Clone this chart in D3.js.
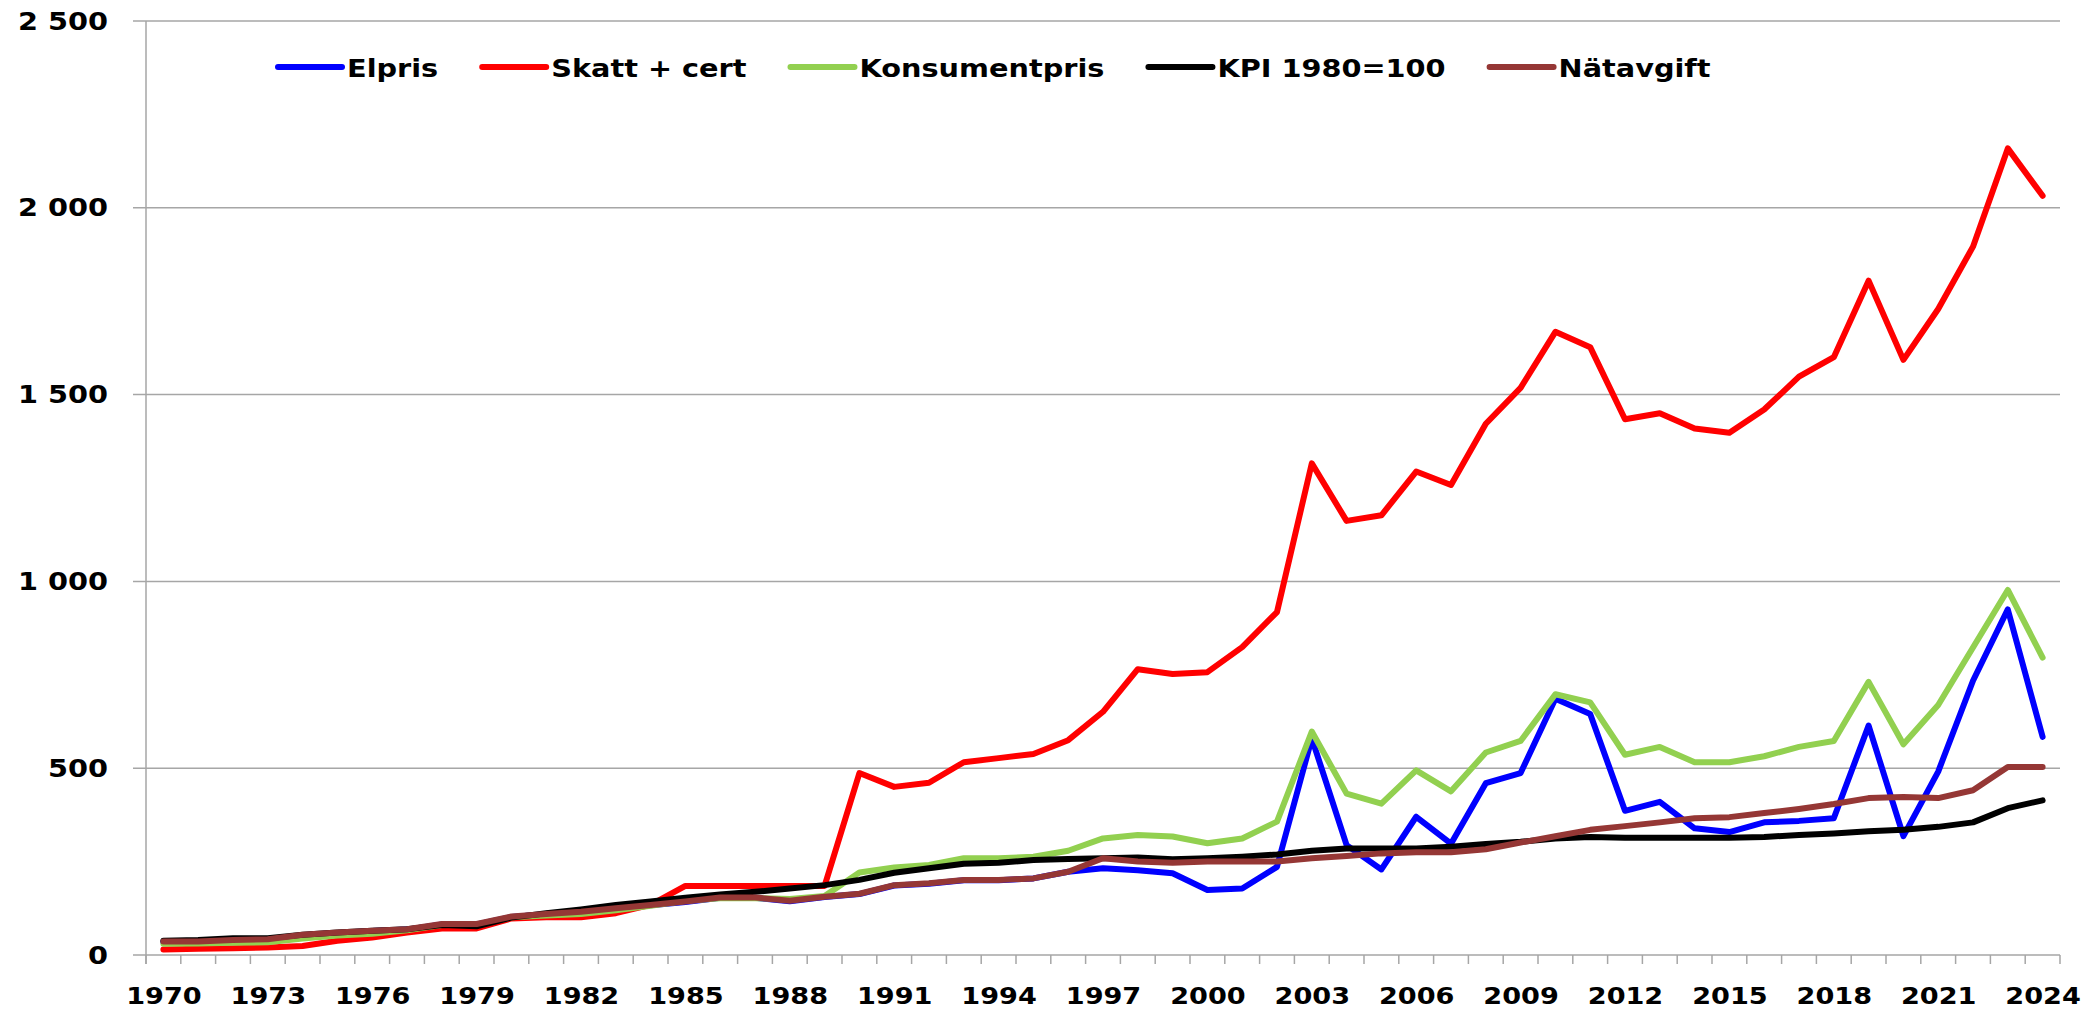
<!DOCTYPE html>
<html>
<head>
<meta charset="utf-8">
<script src="https://cdn.jsdelivr.net/npm/d3@7"></script>
<style>
  html, body { margin: 0; padding: 0; background: #fff; }
  svg { display: block; }
  text { font-family: "DejaVu Sans", sans-serif; font-weight: bold; fill: #000; }
</style>
</head>
<body>
<svg id="chart" width="2098" height="1011"></svg>
<script>
// ---- data -------------------------------------------------------------
const years = d3.range(1970, 2025);
const xTickYears = [1970, 1973, 1976, 1979, 1982, 1985, 1988, 1991, 1994, 1997,
                    2000, 2003, 2006, 2009, 2012, 2015, 2018, 2021, 2024];
const yTicks = [0, 500, 1000, 1500, 2000, 2500];

const seriesNames = ["Elpris", "Skatt + cert", "Konsumentpris", "KPI 1980=100", "Nätavgift"];
const seriesColors = ["#0000ff", "#ff0000", "#92d050", "#000000", "#953735"];

const elpris = [35, 35, 39, 41, 53, 59, 64, 68, 82, 82,
                102, 109, 115, 124, 133, 142, 153, 153, 144, 155,
                163, 186, 191, 200, 200, 205, 223, 232, 227, 219,
                174, 178, 236, 580, 294, 229, 370, 298, 460, 487,
                686, 645, 386, 410, 339, 329, 355, 359, 366, 614,
                318, 491, 734, 925, 584];
const skattCert = [15, 17, 18, 20, 24, 38, 47, 60, 71, 71,
                   98, 101, 101, 112, 134, 185, 185, 185, 185, 185,
                   487, 450, 461, 516, 527, 538, 575, 651, 765, 752,
                   757, 824, 918, 1316, 1162, 1177, 1294, 1258, 1422, 1518,
                   1668, 1627, 1434, 1450, 1409, 1398, 1460, 1548, 1600, 1805,
                   1593, 1729, 1896, 2159, 2032];
const konsumentpris = [30, 31, 33, 34, 44, 52, 57, 66, 80, 80,
                       101, 106, 110, 120, 132, 145, 152, 152, 150, 158,
                       221, 234, 241, 259, 259, 263, 279, 312, 321, 317,
                       299, 312, 357, 598, 432, 405, 494, 438, 542, 573,
                       698, 676, 536, 557, 516, 516, 532, 557, 573, 731,
                       564, 669, 823, 977, 796];
const kpi = [38, 40, 45, 45, 54, 60, 65, 69, 80, 77,
             100, 112, 122, 134, 143, 153, 162, 169, 178, 187,
             201, 220, 232, 244, 247, 254, 257, 259, 261, 256,
             259, 263, 269, 279, 285, 285, 285, 290, 297, 303,
             312, 316, 314, 314, 314, 314, 316, 321, 325, 331,
             335, 343, 355, 393, 414];
const natavgift = [36, 36, 40, 42, 54, 60, 65, 69, 83, 83,
                   103, 110, 116, 125, 134, 143, 154, 154, 145, 156,
                   164, 187, 192, 201, 201, 205, 223, 259, 250, 247,
                   250, 250, 250, 259, 265, 272, 275, 275, 283, 301,
                   318, 335, 345, 355, 366, 369, 380, 391, 404, 420,
                   423, 420, 441, 503, 503];

const seriesValues = [elpris, skattCert, konsumentpris, kpi, natavgift];
const series = seriesNames.map((name, i) => ({
  name, color: seriesColors[i],
  points: years.map((yr, j) => ({ year: yr, value: seriesValues[i][j] }))
}));

// ---- layout -------------------------------------------------------------
const plot = { left: 146, right: 2060, top: 21, bottom: 955 };
const gridColor = "#a6a6a6";
const lineWidth = 6;
const textStretch = 1.15;

const svg = d3.select("#chart");

const x = d3.scalePoint().domain(years).range([plot.left, plot.right]).padding(0.5);
const y = d3.scaleLinear().domain([0, 2500]).range([plot.bottom, plot.top]);

const fmt = d3.formatLocale({ decimal: ",", thousands: " ", grouping: [3], currency: ["", " kr"] }).format(",d");

// horizontal gridlines (run a little past the value axis on the left)
svg.append("g")
  .selectAll("line")
  .data(yTicks)
  .join("line")
  .attr("x1", plot.left - 13)
  .attr("x2", plot.right)
  .attr("y1", d => y(d))
  .attr("y2", d => y(d))
  .attr("stroke", gridColor)
  .attr("stroke-width", 1.5);

// value axis labels
const yAxis = svg.append("g")
  .attr("transform", `translate(${plot.left},0)`)
  .call(d3.axisLeft(y).tickValues(yTicks).tickSize(0).tickFormat(fmt));
yAxis.select(".domain").remove();
yAxis.selectAll("text")
  .attr("x", -38 / textStretch)
  .attr("transform", `scale(${textStretch},1)`)
  .style("font-size", "25px")
  .style("font-family", "'DejaVu Sans', sans-serif")
  .style("font-weight", "bold")
  .attr("fill", "#000");

// vertical axis line
svg.append("line")
  .attr("x1", plot.left).attr("x2", plot.left)
  .attr("y1", plot.top).attr("y2", plot.bottom + 9)
  .attr("stroke", gridColor).attr("stroke-width", 1.5);

// category boundary tick marks
const step = x.step();
const boundaries = years.map(yr => x(yr) - step / 2).concat([plot.right]);
svg.append("g")
  .selectAll("line")
  .data(boundaries)
  .join("line")
  .attr("x1", d => d).attr("x2", d => d)
  .attr("y1", plot.bottom).attr("y2", plot.bottom + 9)
  .attr("stroke", gridColor).attr("stroke-width", 1.5);

// category labels
const xAxis = svg.append("g")
  .attr("transform", `translate(0,${plot.bottom})`)
  .call(d3.axisBottom(x).tickValues(xTickYears).tickSize(0).tickPadding(33));
xAxis.select(".domain").remove();
xAxis.selectAll("text")
  .attr("transform", "scale(1.18,1)")
  .style("font-size", "23px")
  .style("font-family", "'DejaVu Sans', sans-serif")
  .style("font-weight", "bold")
  .attr("fill", "#000");

// series lines
const line = d3.line().x(d => x(d.year)).y(d => y(d.value));
svg.append("g")
  .selectAll("path")
  .data(series)
  .join("path")
  .attr("d", d => line(d.points))
  .attr("fill", "none")
  .attr("stroke", d => d.color)
  .attr("stroke-width", lineWidth)
  .attr("stroke-linejoin", "round")
  .attr("stroke-linecap", "round");

// legend
const legendY = 67;
const legendSwatch = 64;
const legend = svg.append("g");
let cursor = 278;
series.forEach(s => {
  const g = legend.append("g");
  g.append("line")
    .attr("x1", cursor).attr("x2", cursor + legendSwatch)
    .attr("y1", legendY).attr("y2", legendY)
    .attr("stroke", s.color).attr("stroke-width", lineWidth)
    .attr("stroke-linecap", "round");
  const tx = cursor + legendSwatch + 5;
  const t = g.append("text")
    .attr("transform", `translate(${tx},${legendY + 9.5}) scale(${textStretch},1)`)
    .style("font-size", "25px")
    .text(s.name);
  const w = t.node().getComputedTextLength() * textStretch;
  cursor = tx + w + 44;
});
</script>
</body>
</html>
